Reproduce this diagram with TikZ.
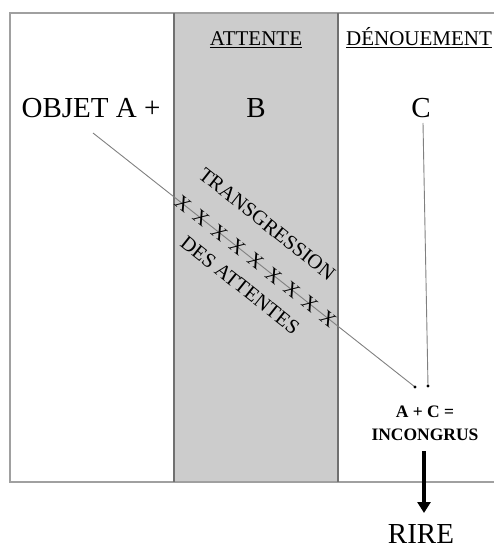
\documentclass[tikz,border=0pt]{standalone}
\usepackage{fontspec}
\setmainfont{Liberation Serif}
\usetikzlibrary{arrows.meta,calc}
\definecolor{colgray}{HTML}{CCCCCC}
\definecolor{framegray}{HTML}{A0A0A0}
\definecolor{sepgray}{HTML}{707070}
\definecolor{linegray}{HTML}{808080}
\begin{document}
\begin{tikzpicture}[x=1pt,y=-1pt,
  txt/.style={inner sep=0pt,anchor=base},
  big/.style={txt,font=\fontsize{29}{29}\selectfont},
  head/.style={txt,font=\fontsize{21}{21}\selectfont},
  diag/.style={inner sep=0pt,anchor=center,rotate=-38.5,font=\fontsize{20.5}{20.5}\selectfont},
  xmark/.style={inner sep=0pt,anchor=center,rotate=-38.5,font=\fontsize{20}{20}\selectfont},
  link/.style={draw=linegray,line width=0.9pt},
  frame/.style={draw=framegray,line width=1.6pt},
  sep/.style={draw=sepgray,line width=1.8pt}]
\useasboundingbox (0,0) rectangle (494,548);
\fill[colgray] (174,13) rectangle (338,482);
\draw[frame] (494,13) -- (10,13) -- (10,482) -- (494,482);
\draw[sep] (174,13) -- (174,482);
\draw[sep] (338,13) -- (338,482);
% headers
\node[head] (hatt) at (256,46) {\underline{ATTENTE}};
\node[head] (hden) at (419,46) {\underline{DÉNOUEMENT}};
% main letters
\node[big] (objA) at (91,118) {OBJET A +};
\node[big] (B) at (256,118) {B};
\node[big] (C) at (421,118) {C};
% result
\node[txt,align=center,font=\bfseries\fontsize{17.5}{23}\selectfont] (res) at (425,440) {A + C =\\INCONGRUS};
\node[big] (rire) at (421,543) {RIRE};
% connectors
\coordinate (s1) at (93,133);
\coordinate (e1) at (415,387);
\coordinate (s2) at (423,123);
\coordinate (e2) at (428,386);
\draw[link] (s1) -- (e1);
\fill[black] (e1) circle (1.7pt);
\draw[link] (s2) -- (e2);
\fill[black] (e2) circle (1.7pt);
% X marks
\foreach \t in {0,1,...,8}{
  \node[xmark] (x\t) at ($(s1)!{0.2795+\t*0.0563}!(e1)$) {X};
}
\node[diag] (trans) at (267,224) {TRANSGRESSION};
\node[diag] (des) at (240,285) {DES ATTENTES};
% thick arrow
\coordinate (a1) at (424,451);
\coordinate (a2) at (424,513);
\draw[line width=3.5pt,-{Triangle[length=11pt,width=13pt]}] (a1) -- (a2);
\end{tikzpicture}
\end{document}
